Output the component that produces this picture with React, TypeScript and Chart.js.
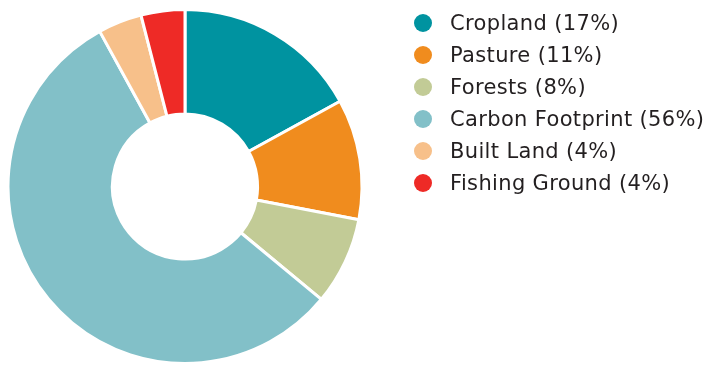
import React, { useEffect, useRef } from "react";
import { Chart, registerables } from "chart.js";

Chart.register(...registerables);

const categories = ["Cropland", "Pasture", "Forests", "Carbon Footprint", "Built Land", "Fishing Ground"];
const shares = [17, 11, 8, 56, 4, 4];
const colors = ["#0093A0", "#F08C1E", "#C2CB96", "#82C0C8", "#F7C08A", "#EE2A26"];

export default function App() {
  const canvasRef = useRef<HTMLCanvasElement | null>(null);

  useEffect(() => {
    document.body.style.margin = "0";
    const ctx = canvasRef.current!;
    const chart = new Chart(ctx, {
      type: "doughnut",
      data: {
        labels: categories.map((c, i) => `${c} (${shares[i]}%)`),
        datasets: [
          {
            data: shares,
            backgroundColor: colors,
            borderColor: "#ffffff",
            borderWidth: 3,
          },
        ],
      },
      options: {
        responsive: false,
        animation: false,
        cutout: "41%",
        layout: { padding: { left: 4, top: 8, bottom: 0, right: 343 } },
        plugins: {
          legend: { display: false },
          tooltip: { enabled: false },
        },
      },
    });
    return () => chart.destroy();
  }, []);

  return (
    <div style={{ position: "relative", width: 709, height: 365, background: "#fff" }}>
      <canvas ref={canvasRef} width={709} height={365} style={{ position: "absolute", left: 0, top: 0 }} />
      <div style={{ position: "absolute", left: 414, top: 7 }}>
        {categories.map((c, i) => (
          <div
            key={c}
            style={{
              display: "flex",
              alignItems: "center",
              height: 32,
              fontFamily: "'DejaVu Sans', sans-serif",
              fontSize: 21,
              letterSpacing: 0.35,
              color: "#231F20",
              whiteSpace: "nowrap",
            }}
          >
            <span
              style={{
                display: "inline-block",
                width: 18,
                height: 18,
                borderRadius: "50%",
                background: colors[i],
                marginRight: 18,
                flexShrink: 0,
              }}
            />
            <span>{`${c} (${shares[i]}%)`}</span>
          </div>
        ))}
      </div>
    </div>
  );
}
